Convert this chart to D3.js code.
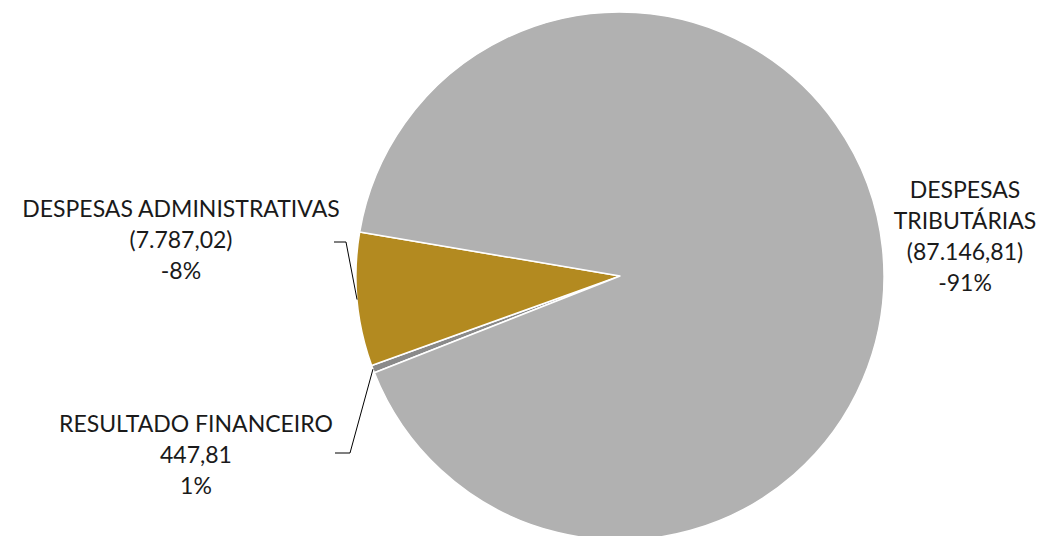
<!DOCTYPE html>
<html>
<head>
<meta charset="utf-8">
<script src="https://cdn.jsdelivr.net/npm/d3@7"></script>
<style>
  body { margin: 0; background: #fff; }
  text { font-family: Lato, "Open Sans", sans-serif; font-size: 23px; fill: #1a1a1a; }
</style>
</head>
<body>
<div id="chart"></div>
<script>
// data, in the order the slices run clockwise
var categories = ["RESULTADO FINANCEIRO", "DESPESAS ADMINISTRATIVAS", "DESPESAS TRIBUTÁRIAS"];
var values = [447.81, 7787.02, 87146.81];
var valueLabels = ["447,81", "(7.787,02)", "(87.146,81)"];
var pctLabels = ["1%", "-8%", "-91%"];
var colors = ["#8a8a8a", "#b38a20", "#b1b1b1"];

var width = 1051, height = 536;
var cx = 620, cy = 276, radius = 264;

var svg = d3.select("#chart")
            .append("svg")
            .attr("width", width)
            .attr("height", height);

var data = categories.map(function(c, i){
    return {name: c, value: values[i], vlab: valueLabels[i], plab: pctLabels[i], color: colors[i]};
});

var startDeg = 248.5;
var pie = d3.pie().sort(null).value(function(d){ return d.value; })
            .startAngle(startDeg * Math.PI / 180)
            .endAngle((startDeg + 360) * Math.PI / 180);
var arc = d3.arc().innerRadius(0).outerRadius(radius);

var g = svg.append("g").attr("transform", "translate(" + cx + "," + cy + ")");
var arcs = pie(data);

g.selectAll("path.slice")
  .data(arcs)
  .enter().append("path")
  .attr("class", "slice")
  .attr("d", arc)
  .attr("fill", function(d){ return d.data.color; })
  .attr("stroke", "#fff")
  .attr("stroke-width", 1.5)
  .attr("stroke-linejoin", "round");

// label layout (text blocks placed like the original)
var labelPos = [
  {x: 196, y: 432, lines: ["RESULTADO FINANCEIRO"], leader: [[335, 453], [350, 453]]},
  {x: 181, y: 217, lines: ["DESPESAS ADMINISTRATIVAS"], leader: [[334, 242], [346, 242]]},
  {x: 965, y: 198, lines: ["DESPESAS", "TRIBUTÁRIAS"], leader: null}
];

function outerPoint(d){
  var a = (d.startAngle + d.endAngle) / 2;
  return [cx + radius * Math.sin(a), cy - radius * Math.cos(a)];
}

arcs.forEach(function(d, i){
  var lp = labelPos[i];
  var lines = lp.lines.concat([d.data.vlab, d.data.plab]);
  var t = svg.append("text")
     .attr("text-anchor", "middle")
     .attr("x", lp.x).attr("y", lp.y);
  lines.forEach(function(l, k){
    t.append("tspan").attr("x", lp.x).attr("y", lp.y + k * 31).text(l);
  });
  if (lp.leader) {
    var pts = lp.leader.concat([outerPoint(d)]);
    svg.append("path")
       .attr("d", d3.line()(pts))
       .attr("fill", "none")
       .attr("stroke", "#000")
       .attr("stroke-width", 1);
  }
});
</script>
</body>
</html>
